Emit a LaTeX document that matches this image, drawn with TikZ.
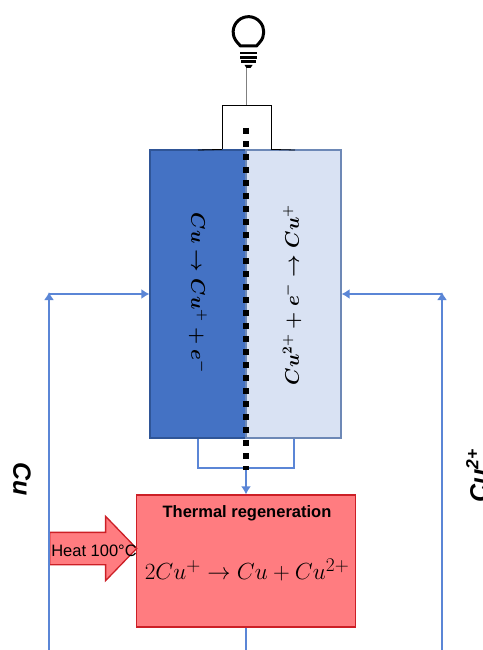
\documentclass[tikz,border=0pt]{standalone}
\usepackage{fontspec}
\setmainfont{Liberation Sans}
\usetikzlibrary{arrows.meta,shapes.arrows}
\definecolor{cellblue}{HTML}{4472C4}
\definecolor{cellpale}{HTML}{D9E2F3}
\definecolor{cellline}{HTML}{2F5597}
\definecolor{pipeblue}{HTML}{5B86D6}
\definecolor{boxred}{HTML}{FF7C80}
\definecolor{boxline}{HTML}{CC1F26}
\tikzset{
	cell/.style={draw=cellline,line width=1.2pt,inner sep=0pt,minimum height=288pt},
	pipe/.style={draw=pipeblue,line width=2pt},
	tip/.style={-{Latex[length=8pt,width=10pt]}},
	reaction/.style={font=\fontsize{20.74}{22}\selectfont\boldmath,inner sep=0pt,scale=0.95,transform shape},
	ion/.style={font=\fontsize{25}{28}\selectfont\bfseries\itshape,inner sep=0pt},
}
\begin{document}
\begin{tikzpicture}[x=1pt,y=-1pt]
		\useasboundingbox (0,0) rectangle (482,650);
		%cells
		\node (left cell) at(198, 294) [cell,fill=cellblue,minimum width=96pt] {};
		\node (right cell) at(293.5, 294) [cell,fill=cellpale,draw=cellline!70,minimum width=95pt] {};
		\node (left text) at(198, 293) [reaction,rotate=-90] {$Cu\rightarrow Cu^{+}+e^{-}$};
		\node (right text) at(292, 295) [reaction,rotate=90] {$Cu^{2+}+e^{-}\rightarrow Cu^{+}$};
		%regeneration box
		\node (red box) at(246, 561) [draw=boxline,line width=1.3pt,fill=boxred,minimum width=219pt,minimum height=132pt,inner sep=0pt] {};
		\node (box title) at(247, 513) [font=\fontsize{16.5}{18}\selectfont\bfseries,inner sep=0pt] {Thermal regeneration};
		\node (box text) at(247, 570) [font=\fontsize{24.88}{27}\selectfont,inner sep=0pt,scale=0.935,transform shape] {$2Cu^{+}\rightarrow Cu+Cu^{2+}$};
		%heat
		\node (heat) at(49, 548.5) [anchor=tail,shape=single arrow,draw=boxline,line width=1.3pt,fill=boxred,text width=10pt,text height=31pt,text depth=0pt,minimum height=87pt,single arrow head extend=16pt,single arrow tip angle=92,inner sep=0pt] {};
		\node (heat text) at(94, 551) [font=\fontsize{16.5}{18}\selectfont,inner sep=0pt] {Heat 100°C};
		%side labels
		\node (cu label) at(22, 479) [ion,rotate=-90] {Cu};
		\node (ion label) at(477, 476) [ion,rotate=90] {Cu\textsuperscript{2+}};
		%free ends
		\coordinate (left end) at(49, 650);
		\coordinate (left turn) at(49, 294);
		\coordinate (right end) at(442, 650);
		\coordinate (right turn) at(442, 294);
		\coordinate (low end) at(246, 650);
		\coordinate (low left) at(198, 468);
		\coordinate (low right) at(294, 468);
		\coordinate (low mid) at(246, 468);
		\coordinate (top left) at(222, 105);
		\coordinate (top right) at(271, 105);
		\coordinate (top mid) at(246, 105);
		\coordinate (lamp) at(246, 66);
		\coordinate (rail top) at(246, 128);
		\coordinate (rail low) at(246, 470);

		\path
		(left end) edge[pipe,tip,shorten >=-2pt] (left turn)
		(right end) edge[pipe,tip,shorten >=-2pt] (right turn)
		(left turn) edge[pipe,tip] (left cell.west)
		(right turn) edge[pipe,tip] (right cell.east)
		(low mid) edge[pipe,tip] (red box.north)
		(red box.south) edge[pipe] (low end)
		;
		\draw[pipe] (low left |- left cell.south) -- (low left) -- (low right) -- (low right |- right cell.south);
		\draw[black,line width=0.7pt] (top left |- left cell.north) -- (top left) -- (top right) -- (top right |- right cell.north);
		\draw[black,line width=0.8pt] (198,150) -- (top left |- left cell.north) (top right |- right cell.north) -- (295,150);
		\draw[gray,line width=0.9pt] (lamp) -- (top mid);
		\draw[black,line width=6pt,dash pattern=on 6pt off 7pt] (rail top) -- (rail low);
		%bulb
		\draw[black,line width=3pt,line join=round] (240.5,46) -- (237.1,42.2) arc[start angle=138,end angle=402,radius=15.3] -- (256.5,46) -- cycle;
		\draw[black,line width=2.4pt] (240,53) -- (257,53) (240,57.5) -- (257,57.5) (241,61.5) -- (256,61.5);
		\fill[black] (244.5,65) -- (252.5,65) -- (250.5,68) -- (246.5,68) -- cycle;
\end{tikzpicture}
\end{document}
